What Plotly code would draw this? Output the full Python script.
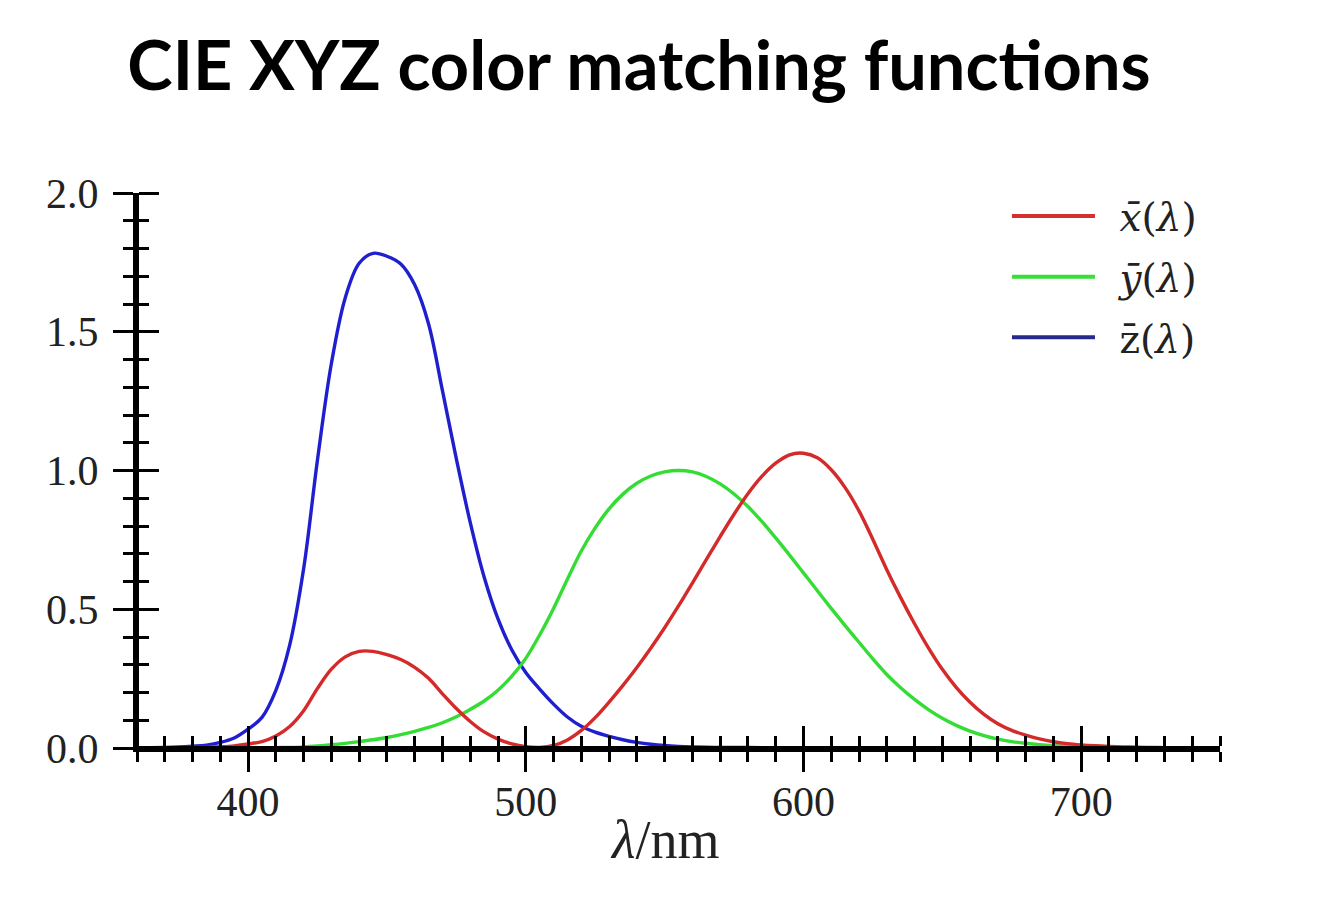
import plotly.graph_objects as go

# CIE 1931 2-degree standard observer, 5 nm steps
wavelength = list(range(360, 755, 5))
x_bar = [0.0001299, 0.0002321, 0.0004149, 0.0007416, 0.001368, 0.002236, 0.004243, 0.007650,
         0.014310, 0.023190, 0.043510, 0.077630, 0.134380, 0.214770, 0.283900, 0.328500,
         0.348280, 0.348060, 0.336200, 0.318700, 0.290800, 0.251100, 0.195360, 0.142100,
         0.095640, 0.057950, 0.032010, 0.014700, 0.004900, 0.002400, 0.009300, 0.029100,
         0.063270, 0.109600, 0.165500, 0.225750, 0.290400, 0.359700, 0.433450, 0.512050,
         0.594500, 0.678400, 0.762100, 0.842500, 0.916300, 0.978600, 1.026300, 1.056700,
         1.062200, 1.045600, 1.002600, 0.938400, 0.854450, 0.751400, 0.642400, 0.541900,
         0.447900, 0.360800, 0.283500, 0.218700, 0.164900, 0.121200, 0.087400, 0.063600,
         0.046770, 0.032900, 0.022700, 0.015840, 0.011359, 0.008111, 0.005790, 0.004109,
         0.002899, 0.002049, 0.001440, 0.001000, 0.000690, 0.000476, 0.000332]
y_bar = [0.000003917, 0.000006965, 0.00001239, 0.00002202, 0.000039, 0.000064, 0.000120, 0.000217,
         0.000396, 0.000640, 0.001210, 0.002180, 0.004000, 0.007300, 0.011600, 0.016840,
         0.023000, 0.029800, 0.038000, 0.048000, 0.060000, 0.073900, 0.090980, 0.112600,
         0.139020, 0.169300, 0.208020, 0.258600, 0.323000, 0.407300, 0.503000, 0.608200,
         0.710000, 0.793200, 0.862000, 0.914850, 0.954000, 0.980300, 0.994950, 1.000000,
         0.995000, 0.978600, 0.952000, 0.915400, 0.870000, 0.816300, 0.757000, 0.694900,
         0.631000, 0.566800, 0.503000, 0.441200, 0.381000, 0.321000, 0.265000, 0.217000,
         0.175000, 0.138200, 0.107000, 0.081600, 0.061000, 0.044580, 0.032000, 0.023200,
         0.017000, 0.011920, 0.008210, 0.005723, 0.004102, 0.002929, 0.002091, 0.001484,
         0.001047, 0.000740, 0.000520, 0.000361, 0.000249, 0.000172, 0.000120]
z_bar = [0.0006061, 0.001086, 0.001946, 0.003486, 0.006450, 0.010550, 0.020050, 0.036210,
         0.067850, 0.110200, 0.207400, 0.371300, 0.645600, 1.039050, 1.385600, 1.622960,
         1.747060, 1.782600, 1.772110, 1.744100, 1.669200, 1.528100, 1.287640, 1.041900,
         0.812950, 0.616200, 0.465180, 0.353300, 0.272000, 0.212300, 0.158200, 0.111700,
         0.078250, 0.057250, 0.042160, 0.029840, 0.020300, 0.013400, 0.008750, 0.005750,
         0.003900, 0.002750, 0.002100, 0.001800, 0.001650, 0.001400, 0.001100, 0.001000,
         0.000800, 0.000600, 0.000340, 0.000240, 0.000190, 0.000100, 0.000050, 0.000030,
         0.000020, 0.000010, 0.0, 0.0, 0.0, 0.0, 0.0, 0.0,
         0.0, 0.0, 0.0, 0.0, 0.0, 0.0, 0.0, 0.0,
         0.0, 0.0, 0.0, 0.0, 0.0, 0.0, 0.0]

names = ["\u2002<i>x̄</i>(<i>λ</i>)", "\u2002<i>ȳ</i>(<i>λ</i>)", "\u2002z̄(<i>λ</i>)"]
curve_colors = ["#d42a2a", "#33dd33", "#1f1fd0"]
legend_colors = ["#d43030", "#3ade3a", "#262a8c"]

title_text = "CIE XYZ color matching funct\u200bions"
x_title = "<i>λ</i>/nm"

fig = go.Figure()
series = [x_bar, y_bar, z_bar]
order = [2, 1, 0]
for i in order:
    fig.add_trace(go.Scatter(x=wavelength, y=series[i], mode="lines",
                             line=dict(color=curve_colors[i], width=3.4, shape="spline", smoothing=1.0),
                             showlegend=False, hoverinfo="skip", xaxis="x2", yaxis="y2"))
for i in range(3):
    fig.add_trace(go.Scatter(x=[None], y=[None], mode="lines", name=names[i],
                             line=dict(color=legend_colors[i], width=4),
                             legendgroup=f"g{i}"))

serif = "Liberation Serif, DejaVu Serif, serif"
tick_font = dict(family=serif, size=42, color="#222")

common_x = dict(range=[360, 750], tick0=400, dtick=100, showgrid=False, zeroline=False,
                showline=True, linecolor="black", linewidth=4, ticklen=20, tickwidth=3,
                tickcolor="black", ticks="outside")
common_y = dict(range=[0, 2.0], tick0=0, dtick=0.5, showgrid=False, zeroline=False,
                showline=True, linecolor="black", linewidth=4, ticklen=20, tickwidth=3,
                tickcolor="black", ticks="outside")
minor_x = dict(dtick=10, tick0=360, ticks="outside", ticklen=10, tickwidth=3, tickcolor="black")
minor_y = dict(dtick=0.1, tick0=0, ticks="outside", ticklen=10, tickwidth=3, tickcolor="black")

fig.update_layout(
    width=1319, height=913,
    margin=dict(l=137, r=99, t=193, b=165),
    paper_bgcolor="white", plot_bgcolor="white",
    title=dict(text=title_text, x=639 / 1319, xanchor="center", y=1 - 66 / 913, yanchor="middle",
               font=dict(family="Lato, Noto Sans, sans-serif", size=68.5, color="black", weight="bold")),
    xaxis=dict(**common_x, tickformat="d", ticklabelstandoff=-6, minor=minor_x, tickfont=tick_font),
    yaxis=dict(**common_y, tickformat=".1f", ticklabelstandoff=6, minor=minor_y, tickfont=tick_font),
    # mirrored axes drawn at the same place, ticks pointing into the plot -> crossing ticks
    xaxis2=dict(**common_x, overlaying="x", anchor="free", position=0, side="top",
                showticklabels=False, minor=minor_x),
    yaxis2=dict(**common_y, overlaying="y", anchor="free", position=0, side="right",
                showticklabels=False, minor=minor_y),
    legend=dict(x=0.8033, y=1.016, xanchor="left", yanchor="top", bgcolor="rgba(0,0,0,0)",
                font=dict(family="DejaVu Serif, serif", size=39, color="#222"), itemwidth=83,
                traceorder="grouped", tracegroupgap=7),
    annotations=[dict(text=x_title, xref="paper", yref="paper", x=(664 - 137) / 1083, y=-(840 - 748) / 555,
                      xanchor="center", yanchor="middle", showarrow=False,
                      font=dict(family=serif, size=54, color="#222"))],
)

fig.write_html("out.html")
